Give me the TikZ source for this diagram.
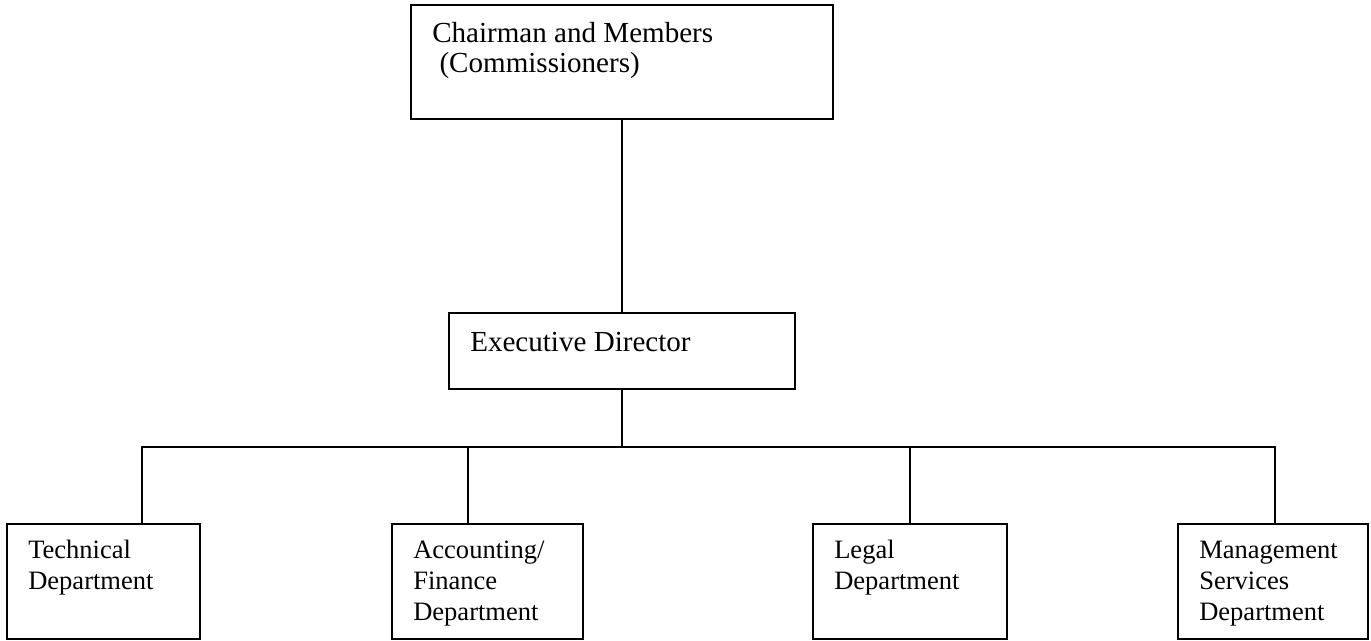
\documentclass[tikz,border=0pt]{standalone}
\usepackage{fontspec}
\setmainfont{Liberation Serif}
\begin{document}
\begin{tikzpicture}[x=0.75pt,y=-0.75pt,
  box/.style={draw, line width=1.3pt, inner sep=0pt, rectangle},
  conn/.style={draw, line width=1.3pt},
  toplbl/.style={anchor=base west, inner sep=0pt, align=left, font=\fontsize{21.8}{22.5}\selectfont},
  lbl/.style={anchor=base west, inner sep=0pt, align=left, font=\fontsize{19.9}{23}\selectfont}]
\useasboundingbox (0,0) rectangle (1371,641);
% boxes
\node[box, minimum width=316.5pt, minimum height=85.5pt] (chair) at (622,62) {};
\node[box, minimum width=259.5pt, minimum height=57pt] (exec) at (622,351) {};
\node[box, minimum width=144.75pt, minimum height=86.25pt] (tech) at (103.5,581.5) {};
\node[box, minimum width=143.25pt, minimum height=86.25pt] (acc) at (487.5,581.5) {};
\node[box, minimum width=145.5pt, minimum height=86.25pt] (legal) at (910,581.5) {};
\node[box, minimum width=142.5pt, minimum height=86.25pt] (mgmt) at (1273,581.5) {};
% texts (anchored at the baseline of their last line)
\node[toplbl] (chairtxt) at (432,73) {Chairman and Members\\\ (Commissioners)};
\node[toplbl] (exectxt) at (470,352) {Executive Director};
\node[lbl] (techtxt) at (28,589) {Technical\\Department};
\node[lbl] (acctxt) at (413,620) {Accounting/\\Finance\\Department};
\node[lbl] (legaltxt) at (834,589) {Legal\\Department};
\node[lbl] (mgmttxt) at (1199,620) {Management\\Services\\Department};
% connectors
\coordinate (bus) at (622,447);
\coordinate (bt) at (142,447);
\coordinate (ba) at (468,447);
\coordinate (bl) at (910,447);
\coordinate (bm) at (1275,447);
\draw[conn] (chair.south) -- (exec.north);
\draw[conn] (exec.south) -- (bus);
\draw[conn] (bt |- tech.north) -- (bt) -- (bm) -- (bm |- mgmt.north);
\draw[conn] (ba) -- (ba |- acc.north);
\draw[conn] (bl) -- (bl |- legal.north);
\end{tikzpicture}
\end{document}
